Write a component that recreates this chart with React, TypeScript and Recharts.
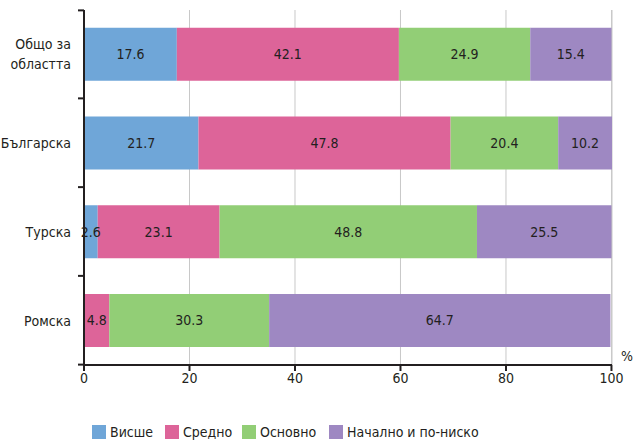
import { BarChart, Bar, XAxis, YAxis, CartesianGrid, Legend, LabelList } from 'recharts'

// ── Данни ────────────────────────────────────────────────────────────────────

const categories = ['Общо за областта', 'Българска', 'Турска', 'Ромска']
const visshe = [17.6, 21.7, 2.6, 0]
const sredno = [42.1, 47.8, 23.1, 4.8]
const osnovno = [24.9, 20.4, 48.8, 30.3]
const nachalno = [15.4, 10.2, 25.5, 64.7]
const xTicks = [0, 20, 40, 60, 80, 100]

const series = [
  { key: 'Висше', values: visshe, color: '#6fa6d8' },
  { key: 'Средно', values: sredno, color: '#dd6499' },
  { key: 'Основно', values: osnovno, color: '#92ce76' },
  { key: 'Начално и по-ниско', values: nachalno, color: '#9e88c2' },
]

const data = categories.map((name, i) => {
  const row: Record<string, string | number | null> = { name }
  series.forEach(s => { row[s.key] = s.values[i] || null })
  return row
})

const FONT = '"DejaVu Sans Condensed", sans-serif'
const TEXT = '#231f20'
const BAND = 88
const LEGEND_X = [92, 165, 242, 329]

// Етикет на категорията + чертичка на границата между категориите
function CategoryTick(props: any) {
  const { x, y, payload } = props
  const lines = payload.value === 'Общо за областта' ? ['Общо за', 'областта'] : [payload.value]
  return (
    <g>
      <line x1={x + 2} x2={x + 8} y1={y + BAND / 2} y2={y + BAND / 2} stroke={TEXT} strokeWidth={2} />
      {payload.index === 0 && (
        <line x1={x + 2} x2={x + 8} y1={y - BAND / 2} y2={y - BAND / 2} stroke={TEXT} strokeWidth={2} />
      )}
      <text x={x - 5} y={y} textAnchor="end" fill={TEXT} fontSize={14} fontFamily={FONT}>
        {lines.map((l, i) => (
          <tspan key={i} x={x - 5} dy={i === 0 ? (lines.length === 1 ? 5 : -5) : 20}>{l}</tspan>
        ))}
      </text>
    </g>
  )
}

// Легенда в реда на сериите
function LegendContent() {
  return (
    <div style={{ position: 'relative', height: 20, fontFamily: FONT, fontSize: 14, color: TEXT }}>
      {series.map((s, i) => (
        <div key={s.key} style={{ position: 'absolute', left: LEGEND_X[i], top: 0, display: 'flex', alignItems: 'center', whiteSpace: 'nowrap' }}>
          <span style={{ width: 14, height: 14, background: s.color, display: 'inline-block', marginRight: 4 }} />
          <span>{s.key}</span>
        </div>
      ))}
    </div>
  )
}

const hideZero = (v: any) => (v ? String(v) : '')

export default function App() {
  return (
    <div style={{ position: 'absolute', left: 0, top: 0, width: 640, height: 444, background: '#fff' }}>
      <BarChart
        width={640}
        height={444}
        data={data}
        layout="vertical"
        margin={{ top: 10, right: 28, bottom: 29, left: 0 }}
        barCategoryGap="20%"
      >
        <CartesianGrid horizontal={false} stroke="#c8c8c8" />
        <XAxis
          type="number"
          domain={[0, 100]}
          ticks={xTicks}
          axisLine={{ stroke: TEXT, strokeWidth: 2 }}
          tickLine={{ stroke: TEXT, strokeWidth: 2 }}
          tickSize={6}
          tick={{ fill: TEXT, fontSize: 14, fontFamily: FONT }}
          height={30}
          label={{ value: '%', position: 'insideTopRight', offset: 0, dx: 21, dy: -14, fill: TEXT, fontSize: 14, fontFamily: FONT }}
        />
        <YAxis
          type="category"
          dataKey="name"
          width={84}
          axisLine={{ stroke: TEXT, strokeWidth: 2 }}
          tickLine={false}
          tick={<CategoryTick />}
        />
        <Legend
          verticalAlign="bottom"
          content={<LegendContent />}
          wrapperStyle={{ bottom: 0, left: 0, width: 640 }}
        />
        {series.map(s => (
          <Bar key={s.key} dataKey={s.key} stackId="a" fill={s.color} isAnimationActive={false}>
            <LabelList
              dataKey={s.key}
              position="center"
              formatter={hideZero}
              fill={TEXT}
              fontSize={14}
              fontFamily={FONT}
            />
          </Bar>
        ))}
      </BarChart>
    </div>
  )
}
